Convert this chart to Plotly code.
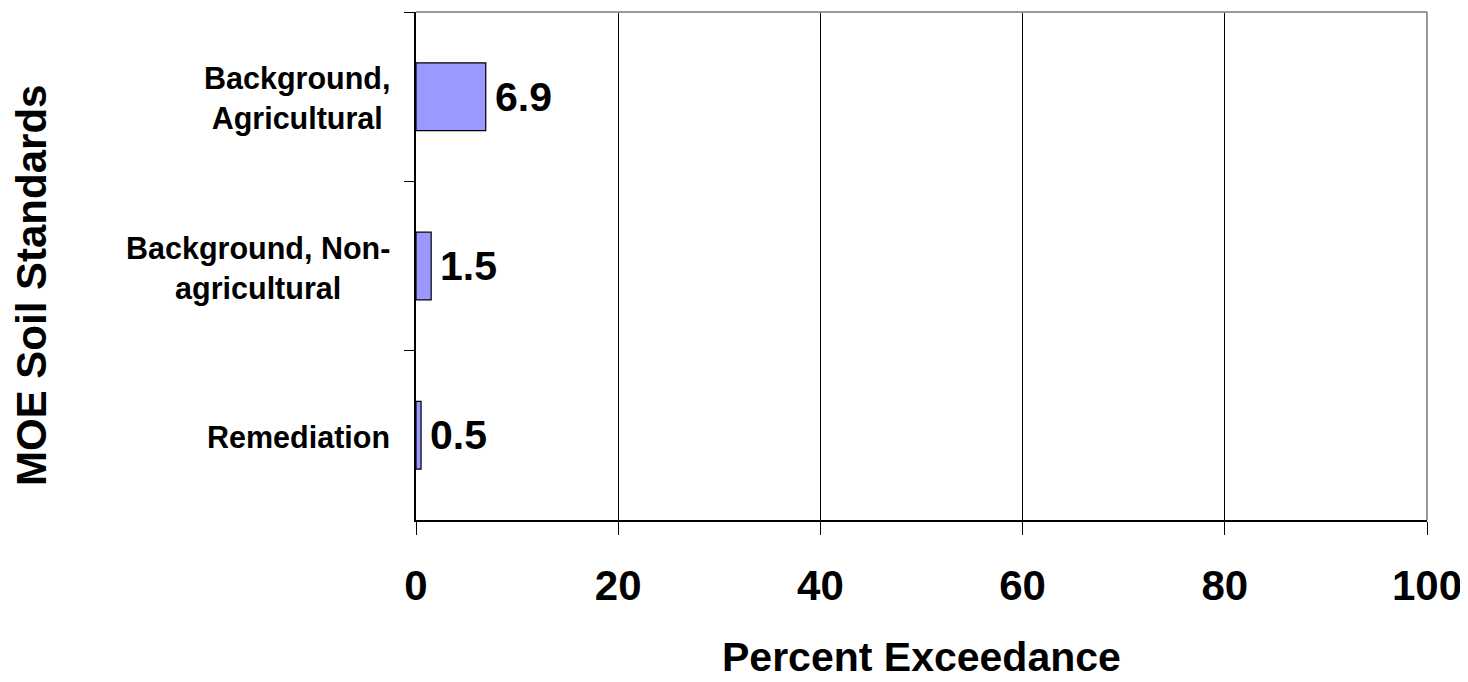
import plotly.graph_objects as go

categories = ["Background,<br>Agricultural", "Background, Non-<br>agricultural", "Remediation"]
values = [6.9, 1.5, 0.5]
x_ticks = [0, 20, 40, 60, 80, 100]
x_title = "Percent Exceedance"
y_title = "MOE Soil Standards"

FONT = "Liberation Sans, Arial, sans-serif"

fig = go.Figure()
fig.add_trace(go.Bar(
    x=values, y=categories, orientation="h",
    marker=dict(color="#9999FF", line=dict(color="black", width=1.2)),
    hoverinfo="skip",
))

annotations = []
# value labels
for c, v in zip(categories, values):
    annotations.append(dict(x=v, y=c, xref="x", yref="y", text=f"<b>{v}</b>",
                            showarrow=False, xanchor="left", yanchor="middle", xshift=7,
                            font=dict(family=FONT, size=41, color="black")))
# category labels
for c in categories:
    annotations.append(dict(x=0, y=c, xref="paper", yref="y", text=f"<b>{c}</b>",
                            showarrow=False, xanchor="right", yanchor="middle", xshift=-24,
                            yshift=-2, align="center",
                            font=dict(family=FONT, size=30.5, color="black")))
# axis titles
annotations.append(dict(x=0.5, y=0, xref="paper", yref="paper", text=f"<b>{x_title}</b>",
                        showarrow=False, xanchor="center", yanchor="middle", yshift=-137,
                        font=dict(family=FONT, size=41, color="black")))
annotations.append(dict(x=0, y=0.5, xref="paper", yref="paper", text=f"<b>{y_title}</b>",
                        showarrow=False, xanchor="center", yanchor="middle", xshift=-385,
                        yshift=-20, textangle=-90,
                        font=dict(family=FONT, size=42, color="black")))

fig.update_layout(
    width=1468, height=682,
    margin=dict(l=408, r=49, t=4, b=170),
    paper_bgcolor="white", plot_bgcolor="white",
    bargap=0.6,
    showlegend=False,
    annotations=annotations,
    shapes=[
        dict(type="line", xref="paper", yref="paper", x0=0, x1=1, y0=1, y1=1,
             line=dict(color="#999999", width=2)),
        dict(type="line", xref="paper", yref="paper", x0=1, x1=1, y0=0, y1=1,
             line=dict(color="#999999", width=2)),
    ],
    xaxis=dict(
        range=[0, 100], tickvals=x_ticks, ticktext=[f"<b>{t}</b>" for t in x_ticks],
        showgrid=True, gridcolor="black", gridwidth=1,
        showline=True, linecolor="black", linewidth=1.5,
        ticks="outside", ticklen=13, tickcolor="black", tickwidth=1,
        ticklabelstandoff=15,
        tickfont=dict(family=FONT, size=42, color="black"),
        zeroline=False, fixedrange=True,
    ),
    yaxis=dict(
        autorange=False, range=[2.5, -0.5], type="category",
        showticklabels=False, showgrid=False,
        showline=True, linecolor="black", linewidth=1.5,
        ticks="outside", ticklen=10, tickcolor="black", tickwidth=1,
        tickson="boundaries", zeroline=False, fixedrange=True,
    ),
)

fig.write_html("out.html")
